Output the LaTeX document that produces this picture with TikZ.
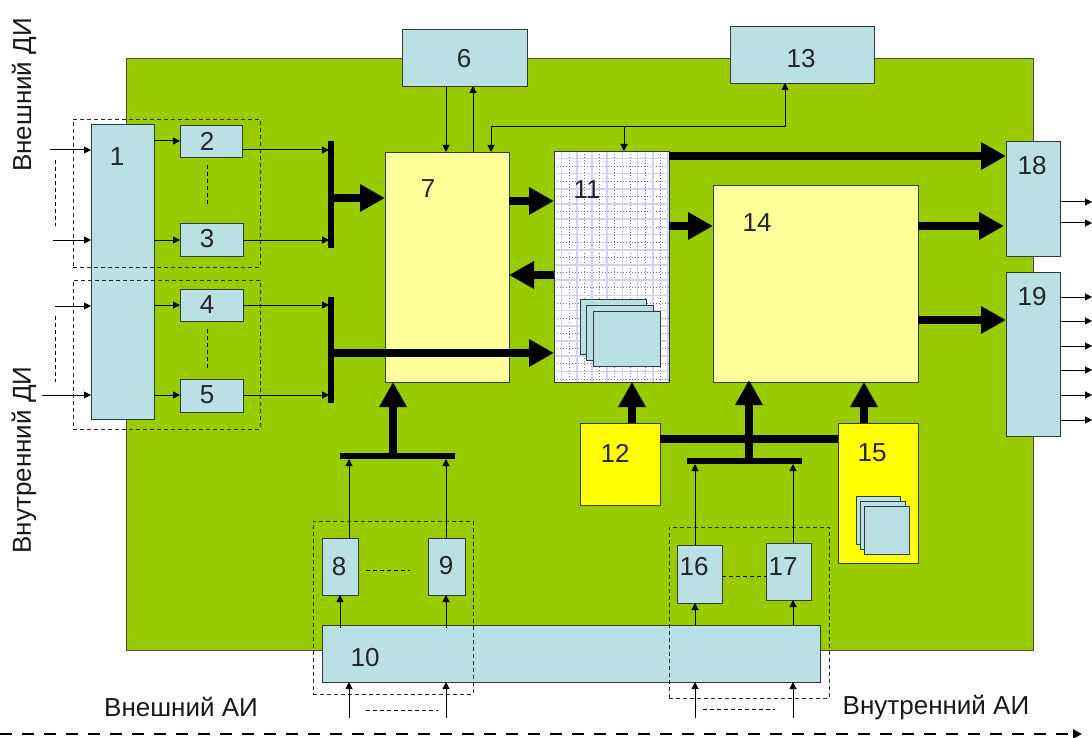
\documentclass[tikz,border=0pt]{standalone}
\usepackage{fontspec}
\setmainfont{Liberation Sans}
\usetikzlibrary{arrows.meta}
\definecolor{grn}{RGB}{153,204,0}
\definecolor{lblue}{RGB}{186,224,228}
\definecolor{lyel}{RGB}{255,255,153}
\definecolor{yel}{RGB}{255,255,0}
\definecolor{edge}{RGB}{50,60,60}
\tikzset{
  x=1pt,y=-1pt,
  rectbox/.style={draw=edge,line width=0.9pt,inner sep=0pt,outer sep=0pt},
  bluebox/.style={rectbox,fill=lblue},
  lyelbox/.style={rectbox,fill=lyel},
  yelbox/.style={rectbox,fill=yel},
  whitebox/.style={rectbox,fill=white},
  dashbox/.style={rectbox,draw=black!85,fill=none,line width=0.9pt,dash pattern=on 4pt off 3pt},
  num/.style={font=\fontsize{26}{26}\selectfont,text=black!85,inner sep=0pt},
  captext/.style={font=\fontsize{26}{26}\selectfont,text=black!90,inner sep=0pt},
  thin arrow/.style={draw=black,line width=1pt,-{Triangle[length=7pt,width=7pt]}},
  plain/.style={draw=black,line width=1pt},
  sdash/.style={draw=black,line width=0.9pt,dash pattern=on 4pt off 3pt},
  thick arrow/.style={draw=black,line width=7.5pt,-{Triangle[length=25pt,width=26pt]}},
  thick line/.style={draw=black,line width=8pt},
  busbar/.style={draw=black,line width=6.5pt},
}
\newcommand{\bx}[6]{%
  \pgfmathsetmacro{\cxx}{(#3+#5)/2}\pgfmathsetmacro{\cyy}{(#4+#6)/2}%
  \pgfmathsetmacro{\wxx}{#5-#3}\pgfmathsetmacro{\hyy}{#6-#4}%
  \node[#1,minimum width=\wxx pt,minimum height=\hyy pt] (#2) at (\cxx,\cyy) {};}
\begin{document}
\begin{tikzpicture}
\useasboundingbox (0,0) rectangle (1092,738);
% green board
\bx{draw=black!70,line width=0.8pt,fill=grn,inner sep=0pt,outer sep=0pt}{board}{126}{58}{1033}{650}
\bx{lyelbox}{b7}{385}{152}{509}{382}
\bx{whitebox}{b11}{554}{151}{669}{382}
\begin{scope}
\clip (554,151) rectangle (669,382);
\foreach \i in {0,...,15}{
  \draw[blue!18,line width=1.6pt] (561.5+\i*15.2,151) -- (561.5+\i*15.2,382);
  \draw[blue!18,line width=1.6pt] (554,158.5+\i*15.2) -- (669,158.5+\i*15.2);
  \draw[blue!60,line width=0.7pt,dash pattern=on 1pt off 2pt] (554+\i*15.2,151) -- (554+\i*15.2,382);
  \draw[blue!60,line width=0.7pt,dash pattern=on 1pt off 2pt] (554,151+\i*15.2) -- (669,151+\i*15.2);
}
\end{scope}
\draw[draw=edge,line width=0.9pt] (b11.north west) rectangle (b11.south east);
\bx{bluebox}{b1}{91}{124}{154}{419}
\bx{bluebox}{b2}{180}{125}{242}{157}
\bx{bluebox}{b3}{180}{223}{243}{256}
\bx{bluebox}{b4}{180}{289}{243}{321}
\bx{bluebox}{b5}{180}{379}{243}{412}
\bx{bluebox}{b6}{402}{29}{527}{86}
\bx{bluebox}{s1a}{580}{299}{646}{354}
\bx{bluebox}{s1b}{586.5}{305}{653}{360}
\bx{bluebox}{s1c}{593}{311}{660}{366}
\bx{bluebox}{b8}{322}{538}{358}{595}
\bx{bluebox}{b9}{428}{538}{465}{595}
\bx{bluebox}{b10}{322}{625}{820}{682}
\bx{yelbox}{b12}{580}{423}{660}{505}
\bx{bluebox}{b13}{730}{26}{874}{83}
\bx{lyelbox}{b14}{713}{185}{918}{382}
\bx{yelbox}{b15}{838}{423}{918}{563}
\bx{bluebox}{s2a}{856}{496}{900}{544}
\bx{bluebox}{s2b}{860}{501}{905}{549}
\bx{bluebox}{s2c}{864}{506}{909}{554}
\bx{bluebox}{b16}{677}{545}{722}{603}
\bx{bluebox}{b17}{766}{543}{811}{600}
\bx{bluebox}{b18}{1006}{141}{1060}{256}
\bx{bluebox}{b19}{1006}{272}{1060}{436}
% dashed groups
\bx{dashbox}{g1}{73}{119}{260}{267}
\bx{dashbox}{g2}{73}{280}{260}{429}
\bx{dashbox}{g3}{313}{521}{473}{694}
\bx{dashbox}{g4}{669}{527}{829}{698}
% bus bars
\coordinate (bar1t) at (331,141); \coordinate (bar1b) at (331,248);
\coordinate (bar2t) at (331,297); \coordinate (bar2b) at (331,403);
\coordinate (bar3l) at (340,456); \coordinate (bar3r) at (455,456);
\coordinate (bar4l) at (687,461); \coordinate (bar4r) at (802,461);
\draw[busbar] (bar1t) -- (bar1b);
\draw[busbar] (bar2t) -- (bar2b);
\draw[busbar] (bar3l) -- (bar3r);
\draw[busbar] (bar4l) -- (bar4r);
% thick connectors
\draw[thick arrow] (331,198) -- (b7.west |- 0,198);
\draw[thick arrow] (331,353) -- (b11.west |- 0,353);
\draw[thick arrow] (b7.east |- 0,201) -- (b11.west |- 0,201);
\draw[thick arrow] (b11.west |- 0,275) -- (b7.east |- 0,275);
\draw[thick arrow] (b11.east |- 0,226) -- (b14.west |- 0,226);
\draw[thick arrow] (b11.east |- 0,156) -- (b18.west |- 0,156);
\draw[thick arrow] (b14.east |- 0,226) -- (1004,226);
\draw[thick arrow] (b14.east |- 0,320) -- (b19.west |- 0,320);
\draw[thick arrow] (393,456) -- (393,382);
\draw[thick arrow] (b12.north -| 632,0) -- (632,382);
\draw[thick arrow] (749,461) -- (749,380);
\draw[thick arrow] (b15.north -| 864,0) -- (864,382);
\draw[thick line] (b12.east |- 0,439) -- (b15.west |- 0,439);
% inputs on the left
\coordinate (i1) at (50,150); \coordinate (i2) at (53,240);
\coordinate (i3) at (55,306); \coordinate (i4) at (42,395);
\draw[thin arrow] (i1) -- (b1.west |- i1);
\draw[thin arrow] (i2) -- (b1.west |- i2);
\draw[thin arrow] (i3) -- (b1.west |- i3);
\draw[thin arrow] (i4) -- (b1.west |- i4);
\draw[sdash] (55,160) -- (55,226);
\draw[sdash] (55,316) -- (55,382);
% 1 -> 2..5
\draw[thin arrow] (b1.east |- 0,141) -- (b2.west |- 0,141);
\draw[thin arrow] (b1.east |- 0,240) -- (b3.west |- 0,240);
\draw[thin arrow] (b1.east |- 0,305) -- (b4.west |- 0,305);
\draw[thin arrow] (b1.east |- 0,395) -- (b5.west |- 0,395);
\draw[sdash] (207,165) -- (207,207);
\draw[sdash] (207,329) -- (207,371);
% 2..5 -> bars
\draw[thin arrow] (b2.east |- 0,150) -- (329,150);
\draw[thin arrow] (b3.east |- 0,240) -- (329,240);
\draw[thin arrow] (b4.east |- 0,305) -- (329,305);
\draw[thin arrow] (b5.east |- 0,395) -- (329,395);
% top
\draw[thin arrow] (b6.south -| 446,0) -- (b7.north -| 446,0);
\draw[thin arrow] (b7.north -| 473,0) -- (b6.south -| 473,0);
\coordinate (jt) at (491,127);
\draw[thin arrow] (jt) -- (b7.north -| 491,0);
\draw[thin arrow] (jt) -- (785,127) -- (b13.south -| 785,0);
\draw[thin arrow] (624,127) -- (b11.north -| 624,0);
% outputs
\foreach \yy in {202,223}{\draw[thin arrow] (b18.east |- 0,\yy) -- (1092,\yy);}
\foreach \yy in {297,321,346,370,395,420}{\draw[thin arrow] (b19.east |- 0,\yy) -- (1092,\yy);}
% bottom
\draw[thin arrow] (b8.north -| 349,0) -- (349,459);
\draw[thin arrow] (b9.north -| 446,0) -- (446,459);
\draw[thin arrow] (b16.north -| 695,0) -- (695,464);
\draw[thin arrow] (b17.north -| 793,0) -- (793,464);
\draw[thin arrow] (340,628) -- (b8.south -| 340,0);
\draw[thin arrow] (446,628) -- (b9.south -| 446,0);
\draw[thin arrow] (b10.north -| 695,0) -- (b16.south -| 695,0);
\draw[thin arrow] (b10.north -| 793,0) -- (b17.south -| 793,0);
\draw[sdash] (366,570) -- (410,570);
\draw[sdash] (b16.east |- 0,576) -- (b17.west |- 0,576);
\foreach \xx in {349,446,695,793}{\draw[thin arrow] (\xx,718) -- (b10.south -| \xx,0);}
\draw[sdash] (366,710) -- (438,710);
\draw[sdash] (703,709) -- (775,709);
\coordinate (fl) at (0,734); \coordinate (fr) at (1082,734);
\draw[draw=black,line width=2.2pt,dash pattern=on 12pt off 10pt,-{Triangle[length=9pt,width=9pt]}] (fl) -- (fr);
% labels
\node[num] (t1) at (117,157) {1};
\node[num] (t2) at (207,141) {2};
\node[num] (t3) at (207,239) {3};
\node[num] (t4) at (207,305) {4};
\node[num] (t5) at (207,395) {5};
\node[num] (t6) at (464,59) {6};
\node[num] (t7) at (428,189) {7};
\node[num] (t8) at (339,567) {8};
\node[num] (t9) at (446,566) {9};
\node[num] (t10) at (365,658) {10};
\node[num] (t11) at (587,190) {11};
\node[num] (t12) at (615,453) {12};
\node[num] (t13) at (801,59) {13};
\node[num] (t14) at (757,223) {14};
\node[num] (t15) at (872,453) {15};
\node[num] (t16) at (694,567) {16};
\node[num] (t17) at (783,567) {17};
\node[num] (t18) at (1032,166) {18};
\node[num] (t19) at (1032,297) {19};
\node[captext,rotate=90] (l1) at (24,95) {Внешний ДИ};
\node[captext,rotate=90] (l2) at (24,460) {Внутренний ДИ};
\node[captext] (l3) at (181,707) {Внешний АИ};
\node[captext] (l4) at (936,708) {Внутренний АИ};
\end{tikzpicture}
\end{document}
